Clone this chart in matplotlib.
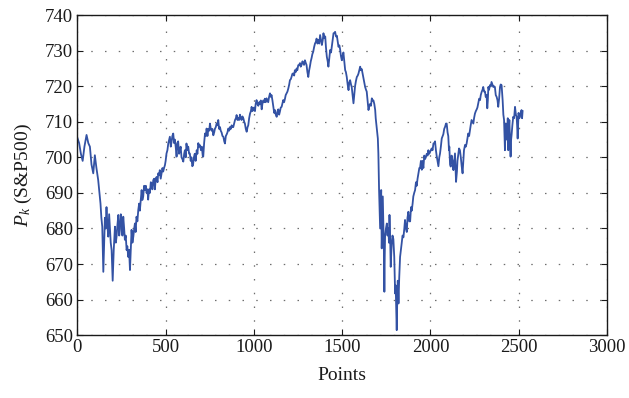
import matplotlib
matplotlib.use("Agg")
import matplotlib.pyplot as plt

# Observation index and S&P500 price level P_k
points = [
    0, 10, 20, 30, 40, 52, 62, 71, 80, 90, 99, 108, 118, 125, 131, 136, 141, 147, 152, 156,
    160, 165, 170, 175, 180, 184, 189, 194, 200, 206, 213, 218, 222, 227, 232, 237, 241, 246, 250, 255,
    260, 265, 269, 274, 279, 283, 288, 293, 298, 303, 307, 312, 317, 322, 326, 330, 335, 340, 345, 350,
    354, 359, 364, 368, 373, 378, 383, 388, 392, 397, 401, 406, 411, 416, 420, 425, 430, 435, 439, 444,
    449, 454, 458, 463, 467, 472, 477, 482, 486, 491, 496, 500, 505, 510, 515, 520, 524, 529, 534, 538,
    543, 548, 552, 557, 562, 566, 571, 576, 581, 585, 590, 595, 600, 605, 609, 614, 618, 623, 628, 633,
    637, 642, 646, 651, 655, 660, 665, 670, 676, 680, 685, 690, 695, 700, 705, 710, 713, 718, 723, 728,
    732, 737, 742, 747, 751, 756, 761, 765, 770, 775, 779, 784, 789, 794, 798, 803, 808, 812, 817, 822,
    827, 832, 836, 841, 846, 850, 855, 860, 864, 869, 874, 878, 883, 888, 893, 898, 902, 907, 912, 916,
    921, 926, 930, 935, 940, 945, 949, 954, 959, 964, 968, 973, 978, 983, 987, 992, 996, 1001, 1006, 1010,
    1015, 1020, 1025, 1030, 1034, 1039, 1044, 1048, 1053, 1058, 1062, 1067, 1072, 1077, 1081, 1086, 1091, 1096, 1100, 1105,
    1110, 1115, 1119, 1124, 1129, 1134, 1138, 1143, 1147, 1152, 1157, 1161, 1166, 1171, 1176, 1180, 1185, 1190, 1195, 1200,
    1204, 1209, 1213, 1218, 1223, 1228, 1232, 1237, 1242, 1246, 1251, 1256, 1261, 1265, 1270, 1275, 1280, 1284, 1289, 1294,
    1298, 1303, 1308, 1313, 1317, 1322, 1327, 1331, 1336, 1341, 1346, 1351, 1355, 1360, 1366, 1370, 1375, 1380, 1385, 1390,
    1394, 1399, 1404, 1408, 1413, 1418, 1422, 1427, 1432, 1437, 1441, 1446, 1451, 1456, 1460, 1465, 1470, 1475, 1479, 1484,
    1488, 1493, 1498, 1502, 1507, 1512, 1517, 1521, 1526, 1531, 1536, 1540, 1545, 1550, 1554, 1559, 1564, 1569, 1573, 1578,
    1583, 1588, 1592, 1597, 1602, 1606, 1611, 1616, 1620, 1625, 1630, 1635, 1639, 1644, 1649, 1654, 1658, 1663, 1668, 1672,
    1677, 1682, 1687, 1690, 1693, 1697, 1702, 1705, 1707, 1709, 1712, 1715, 1718, 1721, 1724, 1727, 1730, 1734, 1737, 1739,
    1741, 1743, 1748, 1753, 1757, 1762, 1765, 1768, 1772, 1775, 1778, 1781, 1785, 1790, 1795, 1800, 1803, 1806, 1809, 1812,
    1815, 1819, 1823, 1828, 1833, 1837, 1842, 1847, 1852, 1856, 1861, 1866, 1870, 1875, 1880, 1885, 1890, 1894, 1899, 1903,
    1908, 1913, 1918, 1922, 1927, 1932, 1937, 1941, 1946, 1951, 1955, 1960, 1965, 1969, 1974, 1979, 1984, 1988, 1993, 1998,
    2002, 2007, 2012, 2017, 2022, 2026, 2031, 2035, 2040, 2045, 2050, 2054, 2059, 2064, 2069, 2073, 2078, 2083, 2088, 2092,
    2097, 2101, 2105, 2107, 2111, 2115, 2120, 2125, 2130, 2135, 2139, 2142, 2145, 2150, 2153, 2158, 2162, 2167, 2172, 2177,
    2182, 2186, 2190, 2196, 2200, 2205, 2210, 2214, 2219, 2224, 2228, 2233, 2238, 2243, 2247, 2252, 2257, 2262, 2266, 2271,
    2276, 2281, 2285, 2290, 2295, 2299, 2304, 2309, 2313, 2318, 2322, 2325, 2328, 2332, 2337, 2342, 2346, 2351, 2356, 2360,
    2365, 2370, 2375, 2380, 2384, 2389, 2394, 2398, 2403, 2406, 2409, 2413, 2417, 2420, 2422, 2425, 2428, 2431, 2435, 2438,
    2441, 2444, 2447, 2451, 2454, 2457, 2460, 2464, 2469, 2474, 2479, 2484, 2488, 2491, 2494, 2497, 2499, 2503, 2507, 2511,
    2516, 2519, 2522,
]

price = [
    705.5, 704, 701, 699, 703, 706.3, 704, 703, 698, 695.5, 700.6, 697, 693.6, 690, 687, 683, 680.5, 667.8, 676, 683,
    680, 686, 681, 677.7, 684, 680.5, 676, 673.9, 665.3, 674, 680.5, 676, 677.7, 681, 683.8, 678, 679.6, 684, 682.4, 678,
    683.3, 680, 676.8, 678, 673.9, 675, 672, 674, 668.3, 675, 679.6, 676, 677.7, 680, 681.4, 679, 683.3, 682, 685.2, 687,
    685, 688, 690.8, 688, 689, 692, 690.8, 692, 690, 691, 688.1, 691, 690, 693, 692.7, 691, 693.6, 694, 691, 694,
    694.5, 693, 695.5, 695, 696.4, 694, 695.5, 697, 696, 697, 697.8, 699, 701.1, 702, 703.9, 705, 705.8, 703, 704.5, 706,
    706.7, 704, 705, 703, 700.2, 704, 704.5, 701, 702, 703, 700, 699.5, 698.8, 701, 702, 700, 703.9, 702, 703, 701,
    701.1, 699, 700, 697.5, 697.8, 700, 701, 699, 702, 701, 704, 703, 703.4, 702, 703, 700.5, 700.2, 704, 706.7, 706,
    708.1, 706, 708, 707.5, 709.5, 708, 707.5, 708, 706.2, 707, 708, 708.5, 709.5, 709, 710.5, 708, 708.5, 707.5, 707, 706,
    705.8, 704.5, 703.9, 706, 706.5, 707, 708.1, 707.5, 708.5, 708, 709, 708.5, 708.5, 709.5, 710.5, 711, 711.9, 710.5, 711, 710.5,
    712, 711, 710.5, 711.5, 711, 710, 709.5, 708, 707.2, 708.5, 709, 711, 712.3, 713, 714.2, 713, 713.5, 714, 713, 715,
    716.1, 715, 714.5, 715.5, 715, 716, 713.5, 715, 716, 715.5, 716.5, 715.5, 716.6, 716, 715.5, 717, 718, 717, 717.5, 716,
    714.2, 712.5, 713.3, 712, 711.4, 713, 713.5, 712, 712.8, 714, 714.2, 715, 716.1, 715.5, 716.5, 717.5, 718, 718.5, 719.4, 720.5,
    721.7, 722, 722.6, 723.5, 723.6, 723, 724.5, 724, 725, 724.5, 725.9, 726, 726.5, 725.5, 726, 727, 726.5, 726, 727.3, 726.5,
    726, 724, 722.6, 724.5, 725.5, 727, 728, 729, 729.7, 731, 732, 732.5, 733.4, 732, 733, 732, 734.4, 733, 731.6, 733,
    734.9, 733.5, 734, 731, 728.3, 727, 725.5, 728, 730.2, 729.5, 731.1, 733, 734.9, 735, 735.3, 734, 734.2, 732.5, 731.1, 731.5,
    730.5, 728.5, 727.3, 728.5, 729.5, 727, 724.5, 724, 722.6, 720.5, 718.9, 721, 721.7, 720.5, 719.8, 717.5, 715.2, 718, 720, 721.5,
    722.6, 723, 723.5, 724.5, 725.5, 724.5, 724.8, 723.5, 722.6, 721, 719.8, 719, 718.5, 716, 713.3, 714.5, 715, 714.5, 716.6, 716,
    716, 715, 713.3, 711, 709.5, 707.5, 705.3, 701.1, 696, 690.8, 685, 680, 686, 690.8, 674.4, 682, 689, 680, 672, 662.2,
    672, 677.7, 680, 681.4, 678, 680, 676, 683.8, 677, 669.2, 673, 675.8, 678, 677, 672, 661.7, 664, 657, 651.4, 660,
    665.3, 658.9, 666, 672, 674, 675.8, 678, 677.5, 680, 682.4, 680, 679, 683, 684.7, 682, 682, 686, 685, 687, 689,
    690, 690.8, 693, 692, 694, 695.5, 697, 697, 699, 696.5, 699, 697, 700.5, 699.5, 700, 701, 700.5, 702, 701, 701.5,
    702, 702.5, 702, 703.9, 704, 704.5, 702, 700.5, 699, 697.5, 700, 701, 703, 705.3, 706, 706.5, 708, 708.6, 709.5, 709.5,
    707, 706, 702, 703, 698, 697.4, 700.5, 699, 696.4, 699, 701.1, 697, 693.1, 696, 699, 701, 702.5, 702, 700, 697.5,
    695.5, 699, 702, 703.5, 703, 703.9, 705.5, 706.7, 706, 707.7, 709, 710.5, 710, 709.5, 711, 712.3, 713, 713.5, 714, 715.2,
    716.5, 716.1, 717.5, 718.4, 719, 719.8, 718.5, 718.5, 717, 717.5, 713.8, 716, 719.8, 719, 720.3, 720, 721.2, 720.5, 719.8, 720,
    719.8, 717.5, 717, 716, 714.2, 716.5, 719.8, 720.5, 720.3, 718, 716, 712, 710.5, 705, 702, 708, 709.5, 705, 706.5, 711,
    702, 708, 710.5, 705, 700.2, 705, 706.5, 709, 711.4, 711, 714.2, 712, 711.5, 709, 705.3, 710, 712.5, 711, 711.4, 712.5,
    713.3, 711, 713,
]

x_ticks = [0, 500, 1000, 1500, 2000, 2500, 3000]
y_ticks = [650, 660, 670, 680, 690, 700, 710, 720, 730, 740]

plt.rcParams["font.family"] = ["Liberation Serif", "DejaVu Serif"]
plt.rcParams["mathtext.fontset"] = "custom"
plt.rcParams["mathtext.it"] = "Liberation Serif:italic"
plt.rcParams["mathtext.rm"] = "Liberation Serif"

fig = plt.figure(figsize=(6.29, 3.98), dpi=100)
ax = fig.add_axes([0.123, 0.158, 0.842, 0.804])

ax.plot(points, price, color="#3352a4", linewidth=1.3)

ax.set_xlim(0, 3000)
ax.set_ylim(650, 740)
ax.set_xticks(x_ticks)
ax.set_yticks(y_ticks)
ax.tick_params(direction="in", top=True, right=True, length=4, width=0.8,
               labelsize=13.5, colors="#1a1a1a", pad=3)
ax.grid(True, color="#6e6e6e", linestyle=(0, (1.2, 9.8)), linewidth=0.9)
for s in ax.spines.values():
    s.set_linewidth(1.0)
    s.set_color("#1a1a1a")

ax.set_xlabel("Points", fontsize=14, labelpad=8, color="#1a1a1a")
ax.set_ylabel(r"$P_k$ (S&P500)", fontsize=14, labelpad=8, color="#1a1a1a")

fig.savefig("out.png", dpi=100)
